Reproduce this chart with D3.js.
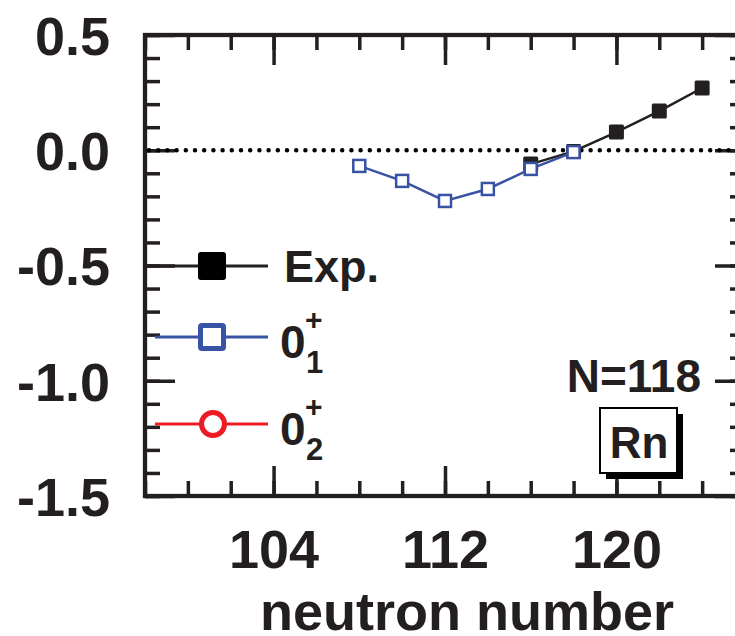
<!DOCTYPE html>
<html>
<head>
<meta charset="utf-8">
<script src="https://cdn.jsdelivr.net/npm/d3@7"></script>
<style>
    body { margin: 0; background: #fff; }
    svg { display: block; }
    text { font-family: "Liberation Sans", Arial, Helvetica, sans-serif; font-weight: bold; fill: #231f20; }
</style>
</head>
<body>
<svg id="chart" width="735" height="636"></svg>
<script>
    // data
    var expN = [116, 118, 120, 122, 124];
    var expVal = [-0.06, -0.005, 0.079, 0.170, 0.270];

    var gs1N = [108, 110, 112, 114, 116, 118];
    var gs1Val = [-0.068, -0.133, -0.220, -0.168, -0.081, -0.008];

    var xMajorTicks = [104, 112, 120];
    var yMajorTicks = [-1.5, -1.0, -0.5, 0.0, 0.5];

    var ink = "#231f20";
    var blue = "#3953a4";
    var red = "#ed1c24";

    var svg = d3.select("#chart");

    var x = d3.scaleLinear().domain([98, 126]).range([145, 745]);
    var y = d3.scaleLinear().domain([-1.5, 0.5]).range([496, 35]);

    var xMinor = d3.range(98, 127, 2);
    var yMinor = d3.range(-15, 6).map(function(d){ return d / 10; });

    // plain hyphen instead of the unicode minus d3 uses
    var yFormat = function(d){ return d3.format(".1f")(d).replace("\u2212", "-"); };

    // ticks on all four sides, pointing in
    function styleAxis(g){
        g.select(".domain").remove();
        g.selectAll(".tick line").attr("stroke", ink).attr("stroke-width", 3.5);
    }

    svg.append("g").attr("transform", "translate(0," + y.range()[0] + ")")
        .call(d3.axisBottom(x).tickValues(xMinor).tickSize(-15).tickFormat(""))
        .call(styleAxis);
    svg.append("g").attr("transform", "translate(0," + y.range()[0] + ")")
        .call(d3.axisBottom(x).tickValues(xMajorTicks).tickSize(-30).tickPadding(34).tickFormat(d3.format("d")))
        .call(styleAxis)
        .selectAll("text").style("font-size", "54px").attr("fill", ink);

    svg.append("g").attr("transform", "translate(0," + y.range()[1] + ")")
        .call(d3.axisTop(x).tickValues(xMinor).tickSize(-15).tickFormat(""))
        .call(styleAxis);
    svg.append("g").attr("transform", "translate(0," + y.range()[1] + ")")
        .call(d3.axisTop(x).tickValues(xMajorTicks).tickSize(-30).tickFormat(""))
        .call(styleAxis);

    svg.append("g").attr("transform", "translate(" + x.range()[0] + ",0)")
        .call(d3.axisLeft(y).tickValues(yMinor).tickSize(-15).tickFormat(""))
        .call(styleAxis);
    svg.append("g").attr("transform", "translate(" + x.range()[0] + ",0)")
        .call(d3.axisLeft(y).tickValues(yMajorTicks).tickSize(-30).tickPadding(35).tickFormat(yFormat))
        .call(styleAxis)
        .selectAll("text").style("font-size", "54px").attr("fill", ink).attr("dy", "0.36em");

    svg.append("g").attr("transform", "translate(" + x.range()[1] + ",0)")
        .call(d3.axisRight(y).tickValues(yMinor).tickSize(-15).tickFormat(""))
        .call(styleAxis);
    svg.append("g").attr("transform", "translate(" + x.range()[1] + ",0)")
        .call(d3.axisRight(y).tickValues(yMajorTicks).tickSize(-30).tickFormat(""))
        .call(styleAxis);

    // frame
    svg.append("rect")
        .attr("x", x.range()[0]).attr("y", y.range()[1])
        .attr("width", x.range()[1] - x.range()[0])
        .attr("height", y.range()[0] - y.range()[1])
        .attr("fill", "none").attr("stroke", ink).attr("stroke-width", 4.3);

    // zero line
    svg.append("line")
        .attr("x1", x(98) + 4).attr("x2", x(126))
        .attr("y1", y(0)).attr("y2", y(0))
        .attr("stroke", "#000").attr("stroke-width", 4.5)
        .attr("stroke-linecap", "round").attr("stroke-dasharray", "0 9.2");

    var line = d3.line()
        .x(function(d){ return x(d[0]); })
        .y(function(d){ return y(d[1]); });

    // experiment
    var expData = d3.zip(expN, expVal);
    svg.append("path").datum(expData).attr("d", line)
        .attr("fill", "none").attr("stroke", ink).attr("stroke-width", 2.5);
    svg.selectAll(".exp").data(expData).enter().append("rect")
        .classed("exp", true)
        .attr("x", function(d){ return x(d[0]) - 7.5; })
        .attr("y", function(d){ return y(d[1]) - 7.5; })
        .attr("width", 15).attr("height", 15).attr("rx", 1.5)
        .attr("fill", ink);

    // 0+_1
    var gs1Data = d3.zip(gs1N, gs1Val);
    svg.append("path").datum(gs1Data).attr("d", line)
        .attr("fill", "none").attr("stroke", blue).attr("stroke-width", 2.5);
    svg.selectAll(".gs1").data(gs1Data).enter().append("rect")
        .classed("gs1", true)
        .attr("x", function(d){ return x(d[0]) - 6; })
        .attr("y", function(d){ return y(d[1]) - 6; })
        .attr("width", 12).attr("height", 12)
        .attr("fill", "#fff").attr("stroke", blue).attr("stroke-width", 2.5);

    // legend
    var legend = svg.append("g");
    var rows = [
        {y: 266, color: ink, x1: 147, marker: "fill"},
        {y: 337, color: blue, x1: 155, marker: "square"},
        {y: 424, color: red, x1: 155, marker: "circle"}
    ];
    rows.forEach(function(r){
        legend.append("line")
            .attr("x1", r.x1).attr("x2", 268)
            .attr("y1", r.y).attr("y2", r.y)
            .attr("stroke", r.color).attr("stroke-width", 2.8);
        if (r.marker === "fill") {
            legend.append("rect").attr("x", 198).attr("y", r.y - 14)
                .attr("width", 28).attr("height", 28).attr("rx", 3).attr("fill", "#000");
        } else if (r.marker === "square") {
            legend.append("rect").attr("x", 200.5).attr("y", r.y - 11.5)
                .attr("width", 23).attr("height", 23).attr("rx", 1.5)
                .attr("fill", "#fff").attr("stroke", r.color).attr("stroke-width", 5);
        } else {
            legend.append("circle").attr("cx", 213).attr("cy", r.y).attr("r", 11.5)
                .attr("fill", "#fff").attr("stroke", r.color).attr("stroke-width", 5);
        }
    });
    legend.append("text").attr("x", 284).attr("y", 282).style("font-size", "45px").attr("fill", "#000").text("Exp.");
    [{y: 358, sub: "1"}, {y: 445, sub: "2"}].forEach(function(s){
        legend.append("text").attr("x", 280).attr("y", s.y).style("font-size", "46px").attr("fill", "#000").text("0");
        legend.append("text").attr("x", 305).attr("y", s.y - 28).style("font-size", "30px").attr("fill", "#000").text("+");
        legend.append("text").attr("x", 306).attr("y", s.y + 15).style("font-size", "31px").attr("fill", "#000").text(s.sub);
    });

    // annotations
    svg.append("text").attr("x", 701).attr("y", 392).attr("text-anchor", "end")
        .style("font-size", "46px").attr("fill", "#000").text("N=118");
    svg.append("rect").attr("x", 606).attr("y", 414).attr("width", 77).attr("height", 65).attr("fill", "#000");
    svg.append("rect").attr("x", 600).attr("y", 408).attr("width", 77).attr("height", 65)
        .attr("fill", "#fff").attr("stroke", "#000").attr("stroke-width", 2);
    svg.append("text").attr("x", 639).attr("y", 458).attr("text-anchor", "middle")
        .style("font-size", "44px").attr("fill", "#000").text("Rn");

    // axis title, sits on the bottom edge as in the reference
    svg.append("text").attr("x", 467).attr("y", 630).attr("text-anchor", "middle")
        .style("font-size", "54px").attr("fill", "#000").text("neutron number");
</script>
</body>
</html>
